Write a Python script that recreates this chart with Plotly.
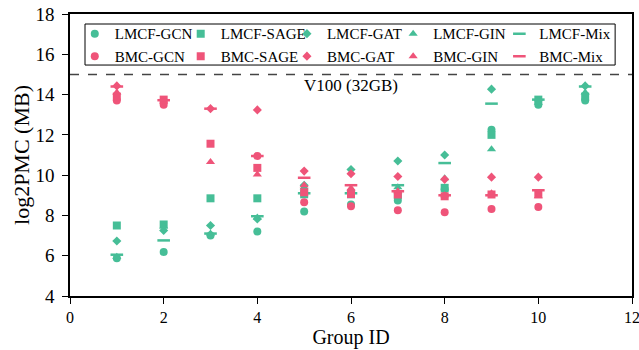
import plotly.graph_objects as go

group_ids = [1, 2, 3, 4, 5, 6, 7, 8, 9, 10, 11]

lmcf_gcn = [5.88, 6.18, 7.00, 7.20, 8.20, 8.54, 8.74, 9.30, 12.25, 13.50, 13.70]
lmcf_sage = [7.50, 7.55, 8.85, 8.85, 9.05, 9.05, 9.00, 9.37, 12.00, 13.75, 13.90]
lmcf_gat = [6.73, 7.25, 7.50, 7.82, 9.50, 10.28, 10.70, 11.00, 14.27, 13.70, 14.43]
lmcf_gin = [5.95, 7.45, 7.10, 7.90, 9.40, 9.30, 9.40, 9.85, 11.28, 13.60, 14.10]
lmcf_mix = [6.05, 6.76, 7.10, 7.96, 9.10, 9.10, 9.50, 10.60, 13.55, 13.75, 14.40]

bmc_gcn = [13.70, 13.50, None, 10.95, 8.66, 8.46, 8.26, 8.16, 8.32, 8.42, None]
bmc_sage = [13.90, 13.75, 11.56, 10.36, 9.15, 9.06, 9.04, 8.95, 9.04, 9.05, None]
bmc_gat = [14.43, 13.70, 13.30, 13.24, 10.20, 10.07, 9.93, 9.79, 9.90, 9.90, None]
bmc_gin = [14.10, 13.65, 10.65, 10.03, 9.50, 9.35, 9.20, 9.00, 9.10, 8.95, None]
bmc_mix = [14.40, 13.72, 13.30, 10.95, 9.87, 9.50, 9.20, 9.00, 9.00, 9.25, None]

v100_limit = 15
v100_label = "V100 (32GB)"

x_ticks = [0, 2, 4, 6, 8, 10, 12]
y_ticks = [4, 6, 8, 10, 12, 14, 16, 18]

GREEN = "#46BE97"
PINK = "#EF5479"
FONT = "Liberation Serif"

symbols = {"GCN": ("circle", 8), "SAGE": ("square", 8), "GAT": ("diamond", 7),
           "GIN": ("triangle-up", 8), "Mix": ("line-ew", 9)}
legend_ids = {"GCN": "legend", "SAGE": "legend2", "GAT": "legend3",
              "GIN": "legend4", "Mix": "legend5"}
model_order = ["GCN", "SAGE", "GAT", "GIN", "Mix"]

series = [
    ("LMCF-GCN", "GCN", GREEN, lmcf_gcn),
    ("LMCF-SAGE", "SAGE", GREEN, lmcf_sage),
    ("LMCF-GAT", "GAT", GREEN, lmcf_gat),
    ("LMCF-GIN", "GIN", GREEN, lmcf_gin),
    ("LMCF-Mix", "Mix", GREEN, lmcf_mix),
    ("BMC-GCN", "GCN", PINK, bmc_gcn),
    ("BMC-SAGE", "SAGE", PINK, bmc_sage),
    ("BMC-GAT", "GAT", PINK, bmc_gat),
    ("BMC-GIN", "GIN", PINK, bmc_gin),
    ("BMC-Mix", "Mix", PINK, bmc_mix),
]

fig = go.Figure()
for name, model, color, vals in series:
    sym, size = symbols[model]
    marker = dict(symbol=sym, size=size, color=color)
    if sym == "line-ew":
        marker["line"] = dict(color=color, width=2.5)
    else:
        marker["line"] = dict(width=0)
    fig.add_trace(go.Scatter(x=group_ids, y=vals, mode="markers", name=name,
                             marker=marker, legend=legend_ids[model]))

fig.add_hline(y=v100_limit, line=dict(color="#444444", width=1.6, dash="dash"))
fig.add_annotation(x=6, y=v100_limit, text=v100_label, showarrow=False,
                   yanchor="top", yshift=0, font=dict(family=FONT, size=17, color="black"))

# legend frame
fig.add_shape(type="rect", xref="paper", yref="paper", x0=0.0267, x1=0.970,
              y0=0.819, y1=0.9645, line=dict(color="black", width=1),
              fillcolor="rgba(0,0,0,0)", layer="above")

axis_common = dict(showline=True, linecolor="black", linewidth=1.5, mirror=True,
                   ticks="outside", ticklen=6, tickcolor="black", tickwidth=1,
                   showgrid=False, zeroline=False, automargin=False,
                   ticklabeloverflow="allow")

fig.update_xaxes(range=[0, 12], tickvals=x_ticks, **axis_common,
                 tickfont=dict(family=FONT, size=16, color="black"),
                 title=dict(text="Group ID", font=dict(family=FONT, size=20, color="black"),
                            standoff=2))
fig.update_yaxes(range=[4, 18], tickvals=y_ticks, **axis_common,
                 ticklabelstandoff=4,
                 tickfont=dict(family=FONT, size=19, color="black"),
                 title=dict(text="log2PMC (MB)", font=dict(family=FONT, size=22, color="black"),
                            standoff=0))

legend_common = dict(orientation="v", yanchor="top", xanchor="left",
                     bgcolor="rgba(0,0,0,0)", borderwidth=0,
                     font=dict(family=FONT, size=15, color="black"),
                     tracegroupgap=0, itemwidth=30)
col_x = [0.0085, 0.197, 0.386, 0.575, 0.764]
legend_layout = {}
for model, cx in zip(model_order, col_x):
    legend_layout[legend_ids[model]] = dict(x=cx, y=0.988, **legend_common)

fig.update_layout(
    width=639, height=350,
    margin=dict(l=70, r=7, t=14, b=54),
    paper_bgcolor="white", plot_bgcolor="white",
    showlegend=True,
    font=dict(family=FONT),
    **legend_layout,
)

# remove the browser's default 8px body margin so the figure fills the window
fig.write_html("out.html", config={"displayModeBar": False},
               post_script="document.body.style.margin='0';")
